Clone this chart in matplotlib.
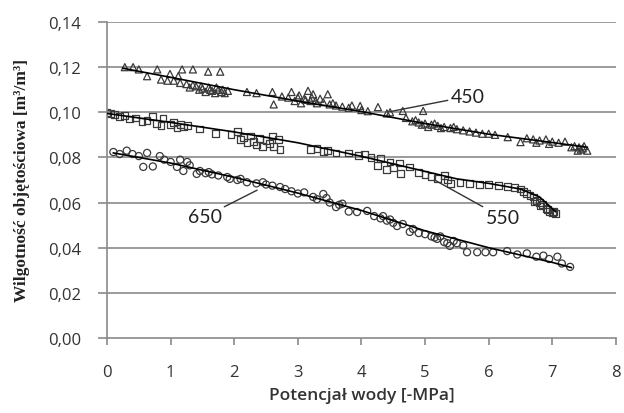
import numpy as np
import matplotlib
matplotlib.use("Agg")
import matplotlib.pyplot as plt

# --- data ---
x450 = [0.28, 0.41, 0.50, 0.63, 0.79, 0.99, 1.12, 1.18, 1.35, 1.59, 1.78,
        0.85, 0.95, 1.05, 1.15, 1.25, 1.30, 1.40, 1.45, 1.50, 1.55, 1.60, 1.65,
        1.70, 1.75, 1.80, 1.85, 1.90, 1.35, 1.48, 1.62, 1.72, 1.82,
        2.20, 2.35, 2.60, 2.62, 2.75, 2.85, 2.90,
        2.95, 3.00, 3.05, 3.10, 3.16, 3.20, 3.24, 3.30, 3.35, 3.47, 3.50, 3.60,
        3.02, 3.12, 3.22, 3.28, 3.40, 3.55,
        3.70, 3.80, 3.85, 3.98, 4.00, 4.10, 4.26, 4.40, 4.45, 4.65, 4.70, 4.85,
        4.90, 4.97, 5.00, 5.10, 5.20, 5.30, 5.40, 5.50, 5.60, 5.70, 5.80, 5.90,
        4.80, 4.95, 5.05, 5.15, 5.25, 5.45,
        6.00, 6.10, 6.30, 6.50, 6.60, 6.70, 6.80, 6.90, 7.00, 7.10, 7.20, 7.30,
        7.35, 7.40, 7.45, 7.50, 7.55, 6.75, 6.95, 7.42, 7.48]
y450 = [0.1200, 0.1200, 0.1190, 0.1160, 0.1190, 0.1170, 0.1160, 0.1190, 0.1190, 0.1180, 0.1180,
        0.1145, 0.1140, 0.1140, 0.1130, 0.1125, 0.1110, 0.1115, 0.1100, 0.1105, 0.1090, 0.1110, 0.1095,
        0.1085, 0.1100, 0.1090, 0.1085, 0.1095, 0.1120, 0.1115, 0.1100, 0.1110, 0.1100,
        0.1090, 0.1085, 0.1090, 0.1035, 0.1070, 0.1065, 0.1090,
        0.1050, 0.1065, 0.1040, 0.1060, 0.1095, 0.1050, 0.1080, 0.1040, 0.1060, 0.1080, 0.1035, 0.1030,
        0.1075, 0.1055, 0.1065, 0.1050, 0.1045, 0.1040,
        0.1025, 0.1020, 0.1030, 0.1028, 0.1010, 0.1005, 0.1023, 0.0995, 0.1000, 0.1006, 0.0975, 0.0965,
        0.0955, 0.1006, 0.0950, 0.0945, 0.0940, 0.0935, 0.0930, 0.0925, 0.0920, 0.0915, 0.0910, 0.0905,
        0.0960, 0.0945, 0.0935, 0.0950, 0.0930, 0.0935,
        0.0905, 0.0900, 0.0890, 0.0868, 0.0885, 0.0880, 0.0875, 0.0880, 0.0870, 0.0865, 0.0870, 0.0845,
        0.0850, 0.0830, 0.0835, 0.0850, 0.0830, 0.0865, 0.0860, 0.0845, 0.0840]

x550 = [0.00, 0.05, 0.12, 0.20, 0.28, 0.35, 0.45, 0.55, 0.63, 0.72, 0.78,
        0.85, 0.88, 1.00, 1.05, 1.10, 1.15, 1.20, 1.26, 1.46, 1.70, 1.95,
        2.05, 2.10, 2.15, 2.20, 2.25, 2.30, 2.35, 2.40, 2.45, 2.50, 2.55,
        2.60, 2.62, 2.70, 2.72, 3.20, 3.30, 3.40, 3.46, 3.60, 3.80, 3.95,
        4.05, 4.15, 4.25, 4.30, 4.40, 4.45, 4.50, 4.60, 4.62, 4.76, 4.90,
        5.00, 5.10, 5.20, 5.30, 5.35, 5.40, 5.55, 5.70, 5.85, 6.00, 6.15,
        6.30, 6.40, 6.50, 6.55, 6.60, 6.65, 6.70, 6.75, 6.80, 6.85, 6.90,
        6.95, 7.00, 7.05, 6.72, 6.82, 6.92, 7.02]
y550 = [0.1000, 0.0995, 0.0990, 0.0980, 0.0985, 0.0970, 0.0975, 0.0960, 0.0965, 0.0980, 0.0950,
        0.0940, 0.0975, 0.0945, 0.0955, 0.0930, 0.0945, 0.0935, 0.0940, 0.0926, 0.0905, 0.0900,
        0.0915, 0.0880, 0.0890, 0.0865, 0.0895, 0.0870, 0.0855, 0.0885, 0.0850, 0.0875, 0.0860,
        0.0895, 0.0850, 0.0880, 0.0835, 0.0835, 0.0840, 0.0825, 0.0830, 0.0820, 0.0820, 0.0810,
        0.0815, 0.0800, 0.0765, 0.0795, 0.0745, 0.0780, 0.0755, 0.0775, 0.0728, 0.0758, 0.0735,
        0.0725, 0.0715, 0.0705, 0.0720, 0.0700, 0.0685, 0.0690, 0.0685, 0.0680, 0.0680, 0.0675,
        0.0670, 0.0665, 0.0660, 0.0650, 0.0640, 0.0630, 0.0625, 0.0610, 0.0600, 0.0590, 0.0575,
        0.0560, 0.0555, 0.0550, 0.0605, 0.0585, 0.0570, 0.0560]

x650 = [0.10, 0.20, 0.31, 0.40, 0.50, 0.57, 0.63, 0.72, 0.83, 0.90, 1.00,
        1.10, 1.15, 1.20, 1.26, 1.41, 1.46, 1.55, 1.65, 1.75, 1.89, 1.93,
        2.05, 2.20, 2.35, 2.50, 2.60, 2.72, 2.80, 2.90, 3.00, 3.10, 3.24,
        3.40, 3.50, 3.60, 3.70, 3.80, 3.93, 4.09, 4.20, 4.34, 4.40, 4.50,
        4.56, 4.65, 4.76, 4.81, 4.90, 5.00, 5.10, 5.19, 5.24, 5.30, 5.39,
        5.50, 5.60, 5.66, 5.82, 5.95, 6.07, 6.29, 6.45, 6.60, 6.75, 6.86,
        6.95, 7.08, 7.15, 7.28,
        1.30, 1.60, 2.10, 2.45, 3.30, 3.45, 3.65, 4.30, 4.45, 5.15, 5.35, 5.45]
y650 = [0.0824, 0.0815, 0.0830, 0.0815, 0.0806, 0.0758, 0.0820, 0.0760, 0.0806, 0.0790, 0.0780,
        0.0758, 0.0790, 0.0740, 0.0780, 0.0727, 0.0740, 0.0730, 0.0725, 0.0720, 0.0713, 0.0705,
        0.0700, 0.0690, 0.0685, 0.0680, 0.0675, 0.0669, 0.0660, 0.0650, 0.0640, 0.0645, 0.0625,
        0.0638, 0.0600, 0.0580, 0.0595, 0.0560, 0.0558, 0.0563, 0.0540, 0.0540, 0.0520, 0.0510,
        0.0496, 0.0505, 0.0470, 0.0483, 0.0465, 0.0460, 0.0450, 0.0439, 0.0450, 0.0425, 0.0408,
        0.0420, 0.0410, 0.0380, 0.0380, 0.0380, 0.0380, 0.0385, 0.0370, 0.0375, 0.0360, 0.0365,
        0.0350, 0.0360, 0.0330, 0.0315,
        0.0765, 0.0735, 0.0705, 0.0690, 0.0615, 0.0620, 0.0590, 0.0530, 0.0525, 0.0445, 0.0420, 0.0430]

# trend lines
fx450 = [0.25, 1.0, 2.0, 3.0, 4.0, 5.0, 6.0, 7.0, 7.55]
fy450 = [0.1195, 0.1155, 0.1100, 0.1050, 0.1003, 0.0950, 0.0903, 0.0866, 0.0845]
fx550 = [0.0, 1.0, 2.0, 3.0, 4.0, 5.0, 5.5, 6.0, 6.5, 6.8, 7.05]
fy550 = [0.0995, 0.0955, 0.0913, 0.0865, 0.0805, 0.0738, 0.0705, 0.0685, 0.0660, 0.0625, 0.0560]
fx650 = [0.1, 1.0, 2.0, 3.0, 4.0, 5.0, 6.0, 7.0, 7.3]
fy650 = [0.0820, 0.0775, 0.0712, 0.0642, 0.0565, 0.0475, 0.0400, 0.0335, 0.0312]

xticks = [0, 1, 2, 3, 4, 5, 6, 7, 8]
yticks = [0.00, 0.02, 0.04, 0.06, 0.08, 0.10, 0.12, 0.14]
ytick_labels = ["0,00", "0,02", "0,04", "0,06", "0,08", "0,10", "0,12", "0,14"]

fig = plt.figure(figsize=(6.24, 4.14), dpi=100)
ax = fig.add_axes([0.1715, 0.1812, 0.8155, 0.7632])

grid_c = "#8a8a8a"
mk = "#3a3a3a"

for yv in yticks[1:]:
    ax.axhline(yv, color=grid_c, lw=1.2, zorder=0)

ax.plot(fx450, fy450, color="black", lw=1.2, zorder=3)
ax.plot(fx550, fy550, color="black", lw=1.2, zorder=3)
ax.plot(fx650, fy650, color="black", lw=1.2, zorder=3)

ax.scatter(x450, y450, marker="^", s=26, facecolors="none", edgecolors=mk, linewidths=0.9, zorder=2)
ax.scatter(x550, y550, marker="s", s=24, facecolors="none", edgecolors=mk, linewidths=0.9, zorder=2)
ax.scatter(x650, y650, marker="o", s=26, facecolors="none", edgecolors=mk, linewidths=0.9, zorder=2)

lbl = dict(fontsize=14, color="#222222", family="Lato", va="center")
arr = dict(arrowstyle="-", color="#333333", lw=1.0, shrinkA=0, shrinkB=0)
ax.annotate("450", xy=(4.45, 0.1003), xytext=(5.40, 0.1070), ha="left", arrowprops=arr, **lbl)
ax.annotate("550", xy=(5.15, 0.0700), xytext=(5.95, 0.0533), ha="left", arrowprops=arr, **lbl)
ax.annotate("650", xy=(2.36, 0.0655), xytext=(1.80, 0.0537), ha="right", arrowprops=arr, **lbl)

ax.set_xlim(0, 8)
ax.set_ylim(0, 0.14)
ax.set_xticks(xticks)
ax.set_yticks(yticks)
ax.set_yticklabels(ytick_labels)

for s in ["top", "right"]:
    ax.spines[s].set_visible(False)
for s in ["left", "bottom"]:
    ax.spines[s].set_color(grid_c)
    ax.spines[s].set_linewidth(1.2)

ax.tick_params(axis="y", direction="out", length=6.5, width=1.2, color=grid_c, pad=12,
               labelsize=12, labelcolor="#333333")
ax.tick_params(axis="x", direction="out", length=5, width=1.2, color=grid_c, pad=14,
               labelsize=12, labelcolor="#333333")
for t in ax.get_xticklabels() + ax.get_yticklabels():
    t.set_family("Open Sans")

ax.set_xlabel("Potencjał wody [-MPa]", fontsize=12.5, family="Open Sans", fontweight="semibold",
              color="#333333", labelpad=5)
fig.text(0.035, 0.565, "Wilgotność objętościowa [m³/m³]", rotation=90, ha="center", va="center",
         fontsize=12.5, family="Liberation Serif", fontweight="bold", color="#222222")

fig.savefig("out.png", dpi=100)
